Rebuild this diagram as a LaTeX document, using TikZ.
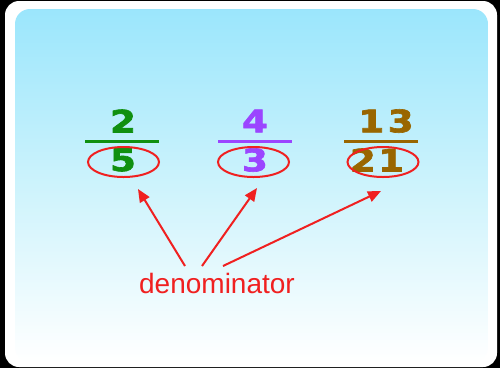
\documentclass[tikz,border=0pt]{standalone}
\usepackage{fontspec}
\setmainfont{Liberation Sans}
\newfontfamily\numfont{DejaVu Sans}[FakeBold=2]
\usetikzlibrary{shapes.geometric,arrows.meta}
\definecolor{grn}{HTML}{109010}
\definecolor{prp}{HTML}{9B45FF}
\definecolor{brn}{HTML}{996600}
\definecolor{rd}{HTML}{F02020}
\definecolor{skyA}{RGB}{155,230,252}
\definecolor{skyB}{RGB}{205,243,252}
\tikzset{
  num/.style={inner sep=0pt, font=\numfont\fontsize{31}{31}\selectfont\bfseries},
  bar/.style={line width=3pt},
  ell/.style={ellipse, draw=rd, line width=2pt, minimum width=71pt, minimum height=30pt, inner sep=0pt},
  arr/.style={draw=rd, line width=2pt, -{Triangle[length=13pt,width=11pt]}},
  lab/.style={text=rd, inner sep=0pt, font=\fontsize{28}{28}\selectfont}
}
\begin{document}
\begin{tikzpicture}[x=1pt,y=-1pt]
\fill[black] (0,0) rectangle (500,368);
\useasboundingbox (0,0) rectangle (500,368);
\fill[white, rounded corners=14pt] (5,1) rectangle (497,367);
\shade[top color=skyA, bottom color=white, middle color=skyB, rounded corners=15pt] (15,9) rectangle (488,362);
% fraction 1
\node[num, text=grn] (n1) at (123,121) {\scalebox{1.2}[1]{2}};
\node[num, text=grn] (d1) at (123,160) {\scalebox{1.2}[1]{5}};
\draw[bar, grn] (85,141) -- (159,141);
\node[ell] (e1) at (123.5,162) {};
% fraction 2
\node[num, text=prp] (n2) at (255,121) {\scalebox{1.2}[1]{4}};
\node[num, text=prp] (d2) at (255,160) {\scalebox{1.2}[1]{3}};
\draw[bar, prp] (218,141) -- (292,141);
\node[ell] (e2) at (253.5,162) {};
% fraction 3
\node[num, text=brn] (n3) at (386,121) {\scalebox{1.2}[1]{1\hspace{3pt}3}};
\node[num, text=brn] (d3) at (377,160) {\scalebox{1.2}[1]{2\hspace{2pt}1}};
\draw[bar, brn] (344,141) -- (418,141);
\node[ell] (e3) at (383,162) {};
% label and arrows
\node[lab] (lab) at (217,283) {denominator};
\coordinate (t1) at (185,266);
\coordinate (h1) at (138,189);
\coordinate (t2) at (202,266);
\coordinate (h2) at (257,188);
\coordinate (t3) at (223,266);
\coordinate (h3) at (381,191);
\draw[arr] (t1) -- (h1);
\draw[arr] (t2) -- (h2);
\draw[arr] (t3) -- (h3);
\end{tikzpicture}
\end{document}
